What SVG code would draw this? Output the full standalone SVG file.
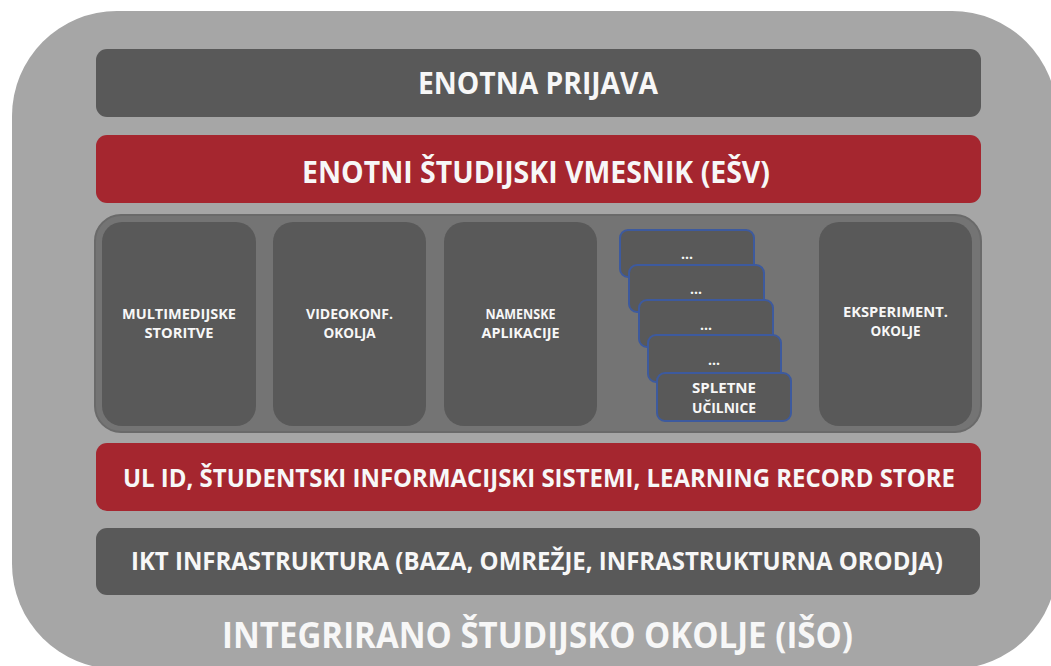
<svg xmlns="http://www.w3.org/2000/svg" width="1051" height="666" viewBox="0 0 1051 666">
<style>
.bar-dark{fill:#595959}
.bar-red{fill:#a5262f}
.card{fill:#595959}
.stack{fill:#595959;stroke:#3d5a9e;stroke-width:2}
text{font-family:"Open Sans","Liberation Sans",sans-serif;font-weight:bold;fill:#f7f7f7;text-anchor:middle}
.big{font-size:30px}
.mid{font-size:25px}
.small{font-size:14px}
.dots{font-size:14px}
.title{font-size:35px}
</style>
<rect width="1051" height="666" fill="#ffffff"/>
<g id="outer">
<rect x="12" y="11" width="1045" height="658" rx="105" ry="105" fill="#a6a6a6"/>
<text class="title" x="537.5" y="648" textLength="631" lengthAdjust="spacingAndGlyphs">INTEGRIRANO ŠTUDIJSKO OKOLJE (IŠO)</text>
</g>
<g id="enotna-prijava">
<rect class="bar-dark" x="96" y="49" width="885" height="68" rx="11"/>
<text class="big" x="538" y="94" textLength="240" lengthAdjust="spacingAndGlyphs">ENOTNA PRIJAVA</text>
</g>
<g id="esv">
<rect class="bar-red" x="96" y="135" width="885" height="68" rx="11"/>
<text class="big" x="536" y="183" textLength="468" lengthAdjust="spacingAndGlyphs">ENOTNI ŠTUDIJSKI VMESNIK (EŠV)</text>
</g>
<g id="services">
<rect x="95" y="215" width="886" height="217" rx="26" fill="#747474" stroke="#6a6a6a" stroke-width="2"/>
</g>
<g id="multimedijske">
<rect class="card" x="102" y="222" width="154" height="204" rx="20"/>
<text class="small" x="179" y="319" textLength="114" lengthAdjust="spacingAndGlyphs">MULTIMEDIJSKE</text>
<text class="small" x="179" y="338" textLength="69" lengthAdjust="spacingAndGlyphs">STORITVE</text>
</g>
<g id="videokonf">
<rect class="card" x="273" y="222" width="153" height="204" rx="20"/>
<text class="small" x="349.5" y="319" textLength="87" lengthAdjust="spacingAndGlyphs">VIDEOKONF.</text>
<text class="small" x="349.5" y="338" textLength="52" lengthAdjust="spacingAndGlyphs">OKOLJA</text>
</g>
<g id="namenske">
<rect class="card" x="444" y="222" width="153" height="204" rx="20"/>
<text class="small" x="520.5" y="319" textLength="70" lengthAdjust="spacingAndGlyphs">NAMENSKE</text>
<text class="small" x="520.5" y="338" textLength="78" lengthAdjust="spacingAndGlyphs">APLIKACIJE</text>
</g>
<g id="spletne-ucilnice">
<rect class="stack" x="620" y="230" width="134" height="47" rx="8"/>
<text class="dots" x="687" y="259">...</text>
<rect class="stack" x="629" y="265" width="135" height="47" rx="8"/>
<text class="dots" x="696" y="294">...</text>
<rect class="stack" x="639" y="300" width="134" height="47" rx="8"/>
<text class="dots" x="706" y="330">...</text>
<rect class="stack" x="648" y="335" width="133" height="47" rx="8"/>
<text class="dots" x="714" y="365">...</text>
<rect class="stack" x="657" y="373" width="134" height="48" rx="8"/>
<text class="small" x="724" y="393" textLength="64" lengthAdjust="spacingAndGlyphs">SPLETNE</text>
<text class="small" x="724" y="413" textLength="64" lengthAdjust="spacingAndGlyphs">UČILNICE</text>
</g>
<g id="eksperiment">
<rect class="card" x="819" y="222" width="153" height="204" rx="20"/>
<text class="small" x="895.5" y="317" textLength="105" lengthAdjust="spacingAndGlyphs">EKSPERIMENT.</text>
<text class="small" x="895.5" y="336" textLength="50" lengthAdjust="spacingAndGlyphs">OKOLJE</text>
</g>
<g id="ul-id">
<rect class="bar-red" x="96" y="443" width="885" height="68" rx="11"/>
<text class="mid" x="539" y="487" textLength="832" lengthAdjust="spacingAndGlyphs">UL ID, ŠTUDENTSKI INFORMACIJSKI SISTEMI, LEARNING RECORD STORE</text>
</g>
<g id="ikt">
<rect class="bar-dark" x="96" y="528" width="884" height="67" rx="11"/>
<text class="mid" x="537" y="570" textLength="812" lengthAdjust="spacingAndGlyphs">IKT INFRASTRUKTURA (BAZA, OMREŽJE, INFRASTRUKTURNA ORODJA)</text>
</g>
<g id="connectors"></g>
</svg>
